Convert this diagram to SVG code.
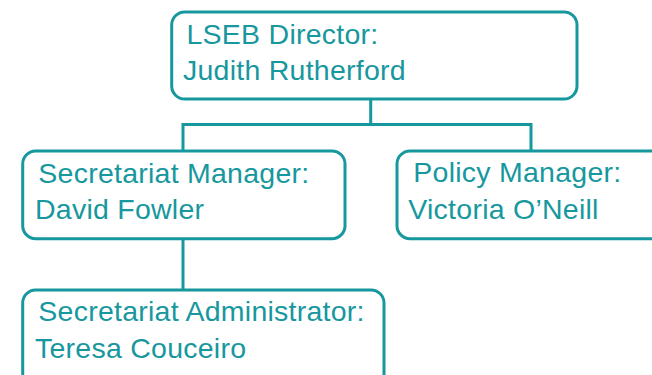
<svg xmlns="http://www.w3.org/2000/svg" width="652" height="375" viewBox="0 0 652 375">
  <style>
    .box { fill: #ffffff; stroke: #17979e; stroke-width: 3; }
    .link { fill: none; stroke: #17979e; stroke-width: 3; }
    .label { font-family: "Liberation Sans", Arial, Helvetica, sans-serif; font-size: 28.5px; letter-spacing: 0.25px; fill: #17979e; }
  </style>
  <rect width="652" height="375" fill="#ffffff"/>

  <!-- reporting lines -->
  <g id="connectors">
    <path class="link" d="M370.7 99 V124.5 M183 124.5 H531 M183 123 V151 M531 123 V151"/>
    <path class="link" d="M183 238.7 V290"/>
  </g>

  <g id="director">
    <rect class="box" x="171.7" y="12" width="405.3" height="87" rx="13"/>
    <text class="label" x="186.5" y="44.3">LSEB Director:</text>
    <text class="label" x="183" y="80.3">Judith Rutherford</text>
  </g>

  <g id="secretariat-manager">
    <rect class="box" x="22.7" y="151" width="322.3" height="87.7" rx="13"/>
    <text class="label" x="38.3" y="182.7">Secretariat Manager:</text>
    <text class="label" x="35" y="219.3">David Fowler</text>
  </g>

  <g id="policy-manager">
    <rect class="box" x="397" y="151" width="280" height="87.7" rx="13"/>
    <text class="label" x="413.3" y="181.7">Policy Manager:</text>
    <text class="label" x="408.3" y="219">Victoria O’Neill</text>
  </g>

  <g id="secretariat-administrator">
    <rect class="box" x="22.7" y="290" width="361.3" height="100" rx="13"/>
    <text class="label" x="38.3" y="321">Secretariat Administrator:</text>
    <text class="label" x="35" y="358.3">Teresa Couceiro</text>
  </g>
</svg>
